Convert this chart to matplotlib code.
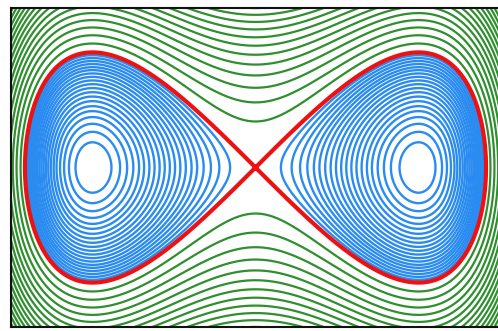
"""Phase portrait of the undamped double-well (Duffing) oscillator.

Energy levels H(x, v) = v^2/2 - x^2/2 + x^4/4: bounded orbits inside each
well in blue, orbits that go over the hump in green, and the separatrix
(H = 0) through the saddle at the origin in red.
"""

import matplotlib

matplotlib.use("Agg")
import matplotlib.pyplot as plt  # noqa: E402
import numpy as np  # noqa: E402

# energy levels drawn
WELL_LEVELS = [
    -0.238, -0.226, -0.214, -0.202, -0.190, -0.179, -0.167, -0.155, -0.143,
    -0.131, -0.119, -0.107, -0.095, -0.083, -0.071, -0.060, -0.048, -0.036,
    -0.024, -0.012,
]
OUTER_LEVELS = [
    0.04, 0.08, 0.12, 0.16, 0.20, 0.24, 0.28, 0.32, 0.36, 0.40, 0.44, 0.48,
    0.52, 0.56, 0.60, 0.64,
]
SEPARATRIX_LEVEL = [0.0]

X_RANGE = (-1.5, 1.5)
V_RANGE = (-0.98, 0.98)


def energy(x, v):
    return 0.5 * v**2 - 0.5 * x**2 + 0.25 * x**4


def main() -> None:
    x = np.linspace(X_RANGE[0] - 0.05, X_RANGE[1] + 0.05, 900)
    v = np.linspace(V_RANGE[0] - 0.05, V_RANGE[1] + 0.05, 700)
    xx, vv = np.meshgrid(x, v)
    hh = energy(xx, vv)

    fig = plt.figure(figsize=(4.98, 3.31), dpi=100)
    ax = fig.add_axes([11 / 498, 4 / 331, 492 / 498, 319 / 331])

    kw = dict(linestyles="solid")
    ax.contour(xx, vv, hh, levels=OUTER_LEVELS, colors="#2f8f2f", linewidths=1.6, **kw)
    ax.contour(xx, vv, hh, levels=WELL_LEVELS, colors="#2a8cf0", linewidths=1.7, **kw)
    ax.contour(xx, vv, hh, levels=SEPARATRIX_LEVEL, colors="#ee1111", linewidths=3.0, **kw)

    ax.set_xlim(X_RANGE[0], X_RANGE[0] + 492 / 163)
    ax.set_ylim(*V_RANGE)
    ax.set_xticks([])
    ax.set_yticks([])
    for side in ax.spines.values():
        side.set_linewidth(1.5)
        side.set_color("#111111")

    fig.savefig("out.png", dpi=100)
    plt.close(fig)


if __name__ == "__main__":
    main()
